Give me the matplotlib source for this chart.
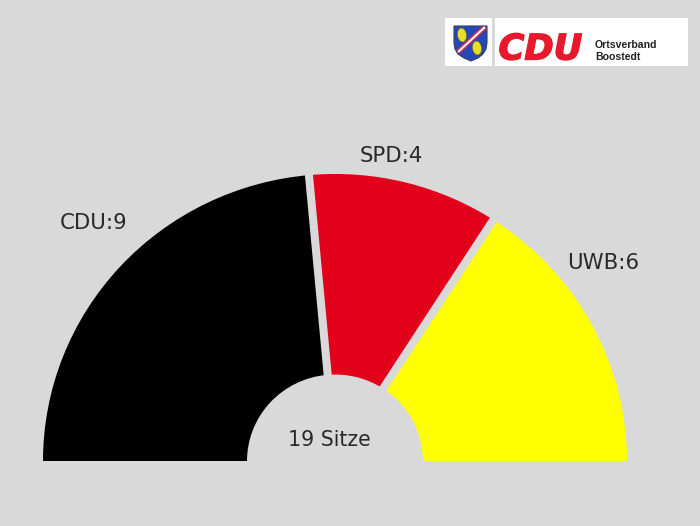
import numpy as np
import matplotlib
matplotlib.use("Agg")
import matplotlib.pyplot as plt
import matplotlib.patheffects as pe
from matplotlib.patches import Polygon, Rectangle, Ellipse

parties = ["CDU", "SPD", "UWB"]
seats = [9, 4, 6]
colors = ["#000000", "#e2001a", "#ffff00"]
total_label = "19 Sitze"
BG = "#d9d9d9"

fig = plt.figure(figsize=(7, 5.26), dpi=100, facecolor=BG)

# the half-ring is very slightly flattened in the reference
flat = 0.983
ax = fig.add_axes([0, 0, 1, 1])
cx, cy, R, r = 335, 65 / flat, 292, 88
total = sum(seats)
ax.pie(seats + [total], colors=colors + ["none"], startangle=180, counterclock=False,
       center=(cx, cy), radius=R, wedgeprops=dict(width=R - r, linewidth=0))
ax.set_aspect("auto")
ax.set_xlim(0, 700)
ax.set_ylim(0, 526 / flat)
ax.axis("off")

# parallel-sided gaps between the seats; the outer end leans slightly left
cum = np.cumsum(seats)[:-1]
for c in cum:
    a = np.pi - np.pi * c / total
    ax.plot([cx + (r - 5) * np.cos(a), cx + (R + 5) * np.cos(a) - 2],
            [cy + (r - 5) * np.sin(a), cy + (R + 5) * np.sin(a)],
            color=BG, lw=5.8, solid_capstyle="butt", zorder=3)

# overlay in pixel units: labels and logo
ov = fig.add_axes([0, 0, 1, 1])
ov.set_xlim(0, 700)
ov.set_ylim(0, 526)
ov.axis("off")

label_xy = [(93.5, 303), (391, 370.5), (603, 263)]
for p, s, (x, y) in zip(parties, seats, label_xy):
    ov.text(x, y, f"{p}:{s}", ha="center", va="center", fontsize=15.3, color="#2a2a2a")
ov.text(329.5, 85.5, total_label, ha="center", va="center", fontsize=14.8, color="#2a2a2a")

ov.add_patch(Rectangle((444.5, 460.5), 47.5, 47.5, fc="white", ec="none", zorder=4))
ov.add_patch(Rectangle((495, 460.5), 192.5, 47.5, fc="white", ec="none", zorder=4))
shield = [(454, 500), (487, 500), (487, 483), (486, 477), (483, 472), (478, 468), (471, 465),
          (464, 468), (458, 472), (455, 477), (454, 483)]
ov.add_patch(Polygon(shield, closed=True, fc="#2448b8", ec="#33405f", lw=0.8, zorder=5))
ov.plot([458, 485], [474, 499], color="#c8324a", lw=3.6, zorder=6, solid_capstyle="butt")
ov.plot([458, 485], [474, 499], color="white", lw=1.4, zorder=7, solid_capstyle="butt")
ov.add_patch(Ellipse((462, 491), 9, 14, angle=8, fc="#e8dc2c", ec="#66661a", lw=0.4, zorder=8))
ov.add_patch(Ellipse((477, 478), 9, 14, angle=8, fc="#e8dc2c", ec="#66661a", lw=0.4, zorder=8))
ov.text(498.5, 476.5, "CDU", fontfamily="DejaVu Sans", fontweight="bold", fontstyle="oblique",
        fontsize=25.4, color="#e8192c", ha="left", va="center", zorder=5,
        path_effects=[pe.withStroke(linewidth=1.0, foreground="#e8192c")])
ov.text(595, 481, "Ortsverband", fontfamily="Liberation Sans", fontweight="bold",
        fontsize=7.6, color="#222222", ha="left", va="center", zorder=5)
ov.text(595, 469, "Boostedt", fontfamily="Liberation Sans", fontweight="bold",
        fontsize=7.6, color="#222222", ha="left", va="center", zorder=5)

fig.savefig("out.png", dpi=100, facecolor=BG)
